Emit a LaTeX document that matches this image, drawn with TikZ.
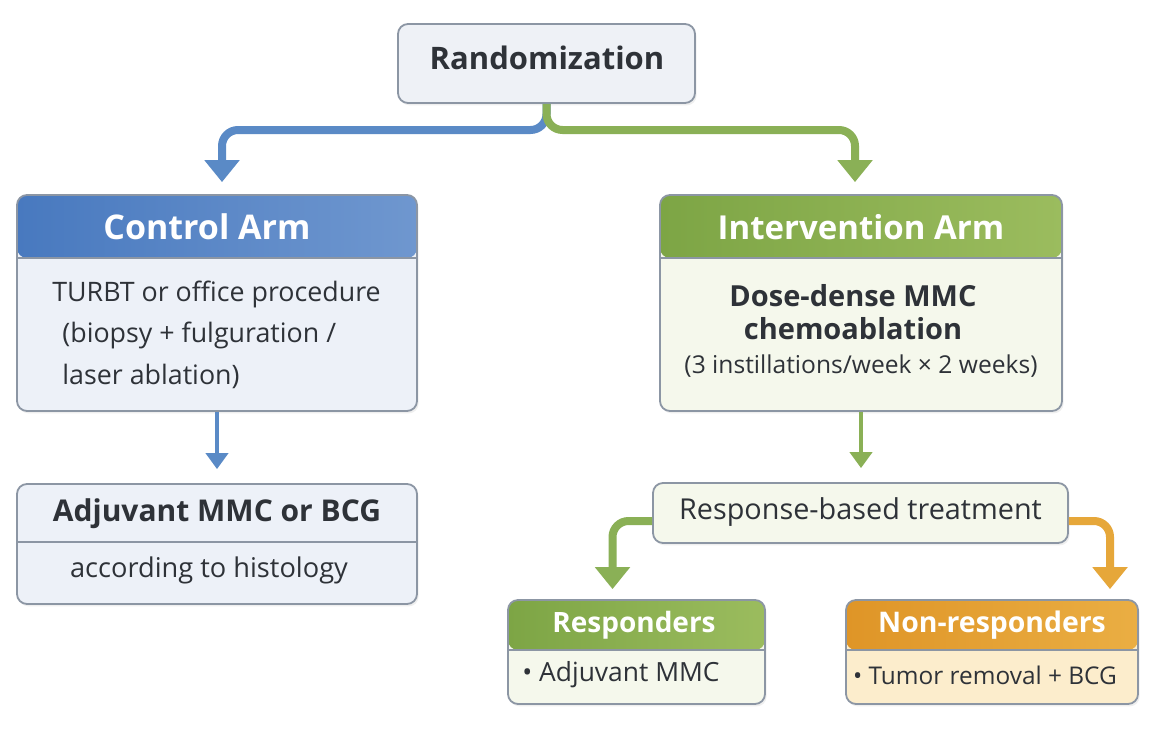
\documentclass[tikz,border=0pt]{standalone}
\usepackage{fontspec}
\setmainfont{Open Sans}
\usetikzlibrary{arrows.meta,shadows}

\definecolor{ink}{HTML}{2E3238}
\definecolor{edge}{HTML}{8C96A4}
\definecolor{rndfill}{HTML}{EEF1F6}
\definecolor{ctlA}{HTML}{4879BF}
\definecolor{ctlB}{HTML}{6F97CF}
\definecolor{ctlbody}{HTML}{EDF1F8}
\definecolor{intA}{HTML}{7DA545}
\definecolor{intB}{HTML}{9BBC5E}
\definecolor{intbody}{HTML}{F5F8EC}
\definecolor{orA}{HTML}{DF9527}
\definecolor{orB}{HTML}{EAAE43}
\definecolor{orbody}{HTML}{FCEDCC}
\definecolor{bluln}{HTML}{5A8AC6}
\definecolor{grnln}{HTML}{8AB056}
\definecolor{orln}{HTML}{E6A73A}

\begin{document}
\begin{tikzpicture}[x=0.5pt,y=-0.5pt,
    box/.style={draw=edge, line width=0.9pt, rounded corners=5pt, fill=#1,
      inner sep=0pt, drop shadow={opacity=0.12,shadow xshift=0.8pt,shadow yshift=-1.2pt}},
    hdr/.style n args={3}{path picture={
      \shade[left color=#1,right color=#2] (path picture bounding box.north west)
        rectangle ([yshift=-#3]path picture bounding box.north east);
      \draw[edge,line width=0.8pt] ([yshift=-#3]path picture bounding box.north west)
        -- ([yshift=-#3]path picture bounding box.north east);}},
    txt/.style={text=ink, inner sep=0pt, font=\fontsize{#1}{16}\selectfont},
    bold/.style={text=ink, inner sep=0pt, font=\fontsize{#1}{18}\selectfont\bfseries},
    head/.style={text=white, inner sep=0pt, font=\fontsize{#1}{18}\selectfont\bfseries},
    branch/.style={line width=4pt, rounded corners=8pt, -{Triangle[width=17pt,length=11pt]}},
    stem/.style={line width=2pt, -{Triangle[width=11pt,length=8pt]}}
  ]
  \useasboundingbox (0,0) rectangle (1154,728);
  \fill[white] (0,0) rectangle (1154,728);

  % Randomisierung
  \node[box=rndfill, minimum width=148.5pt, minimum height=39.5pt] (rnd) at (546.5,63.5) {};
  \node[bold=15.5] (rndtx) at (547,58) {Randomization};

  % Kontrollarm
  \node[box=ctlbody, hdr={ctlA}{ctlB}{31.5pt}, minimum width=200pt, minimum height=108pt] (ctl) at (217,303) {};
  \node[head=17] (ctlhd) at (207,227) {Control Arm};
  \node[txt=13.4, anchor=west] (ctl1) at (52,294) {TURBT or office procedure};
  \node[txt=13.4, anchor=west] (ctl2) at (62,335) {(biopsy + fulguration /};
  \node[txt=13.4, anchor=west] (ctl3) at (62,376) {laser ablation)};

  % Interventionsarm
  \node[box=intbody, hdr={intA}{intB}{31.5pt}, minimum width=201pt, minimum height=108pt] (intv) at (861,303) {};
  \node[head=16.5] (inthd) at (861,227) {Intervention Arm};
  \node[bold=14.5] (int1) at (853,296) {Dose-dense MMC};
  \node[bold=14.5] (int2) at (853,329) {chemoablation};
  \node[txt=12.3] (int3) at (861,366) {(3 instillations/week × 2 weeks)};

  % adjuvante Therapie
  \node[box=ctlbody, minimum width=200pt, minimum height=60pt] (adj) at (217,544) {};
  \draw[edge, line width=0.8pt] ([yshift=-29.5pt]adj.north west) -- ([yshift=-29.5pt]adj.north east);
  \node[bold=15] (adj1) at (217,514) {Adjuvant MMC or BCG};
  \node[txt=13.6] (adj2) at (209,570) {according to histology};

  % Ansprechen
  \node[box=intbody, minimum width=207.5pt, minimum height=30pt] (resp) at (860.5,513) {};
  \node[txt=14.4] (resptx) at (860.5,512) {Response-based treatment};

  \node[box=intbody, hdr={intA}{intB}{25pt}, minimum width=128.5pt, minimum height=52pt] (rsp) at (636.5,652) {};
  \node[head=14] (rsphd) at (634,625) {Responders};
  \node[txt=13.2] (rsp1) at (621,675) {• Adjuvant MMC};

  \node[box=orbody, hdr={orA}{orB}{25pt}, minimum width=146pt, minimum height=52pt] (nrs) at (992,652) {};
  \node[head=14.2] (nrshd) at (992,625) {Non-responders};
  \node[txt=12.2] (nrs1) at (985,675) {• Tumor removal + BCG};

  % Pfeile
  \coordinate (split) at (541,130);
  \draw[branch, bluln, shorten >=6pt] (rnd.south) -- (rnd.south |- split) -| ([xshift=2.5pt]ctl.north);
  \draw[branch, grnln, shorten >=6pt] (rnd.south) -- (rnd.south |- split) -| ([xshift=-3pt]intv.north);
  \draw[stem, bluln, shorten >=7pt] (ctl.south) -- (adj.north);
  \draw[stem, grnln, shorten >=7pt] (intv.south) -- (intv.south |- resp.north);
  \draw[branch, grnln, shorten >=5pt] ([yshift=-4pt]resp.west) -| ([xshift=-12pt]rsp.north);
  \draw[branch, orln, shorten >=5pt] ([yshift=-4pt]resp.east) -| ([xshift=59pt]nrs.north);
\end{tikzpicture}
\end{document}
